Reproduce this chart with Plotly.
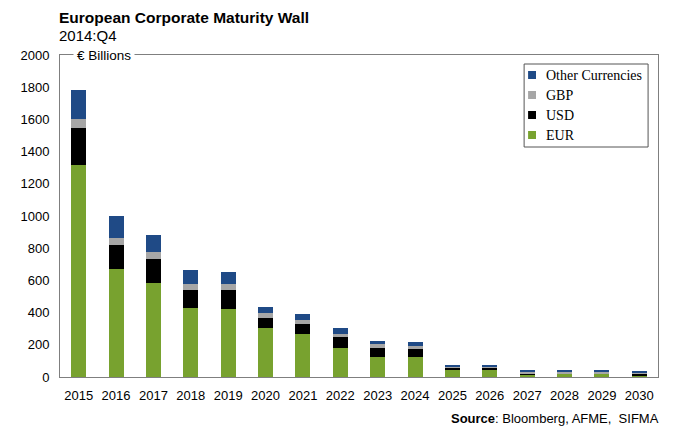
import plotly.graph_objects as go

# data (EUR bn)
years = [str(y) for y in range(2015, 2031)]
eur = [1315, 671, 584, 429, 422, 302, 269, 182, 122, 122, 47, 47, 14, 19, 23, 8]
usd = [232, 151, 151, 111, 118, 64, 58, 65, 60, 54, 9, 9, 8, 2, 1, 14]
gbp = [53, 41, 41, 38, 38, 32, 29, 22, 21, 18, 12, 12, 12, 12, 12, 8]
other = [183, 137, 104, 87, 74, 39, 33, 33, 21, 21, 8, 8, 10, 10, 10, 8]

series = [
    ("EUR", eur, "#78A22F"),
    ("USD", usd, "#000000"),
    ("GBP", gbp, "#A6A6A6"),
    ("Other Currencies", other, "#1F4A86"),
]

# page has an 8px body margin, so the figure is drawn 8px smaller
W, H = 667, 419
L, T, R, B = 47, 47, 650, 369


def px(x):
    return (x - L) / (R - L)


def py(y):
    return (B - y) / (B - T)


fig = go.Figure()
for name, vals, col in series:
    fig.add_trace(go.Bar(x=years, y=vals, name=name, width=0.4, showlegend=False,
                         marker=dict(color=col, line=dict(width=0))))

# hand drawn legend box (reference has tight spacing)
shapes = [dict(type="rect", xref="paper", yref="paper",
               x0=px(515), x1=px(640), y0=py(139), y1=py(56),
               line=dict(color="#555555", width=1), fillcolor="white", layer="above")]
annos = []
for i, (name, vals, col) in enumerate(reversed(series)):
    yc = 67 + 20 * i
    shapes.append(dict(type="rect", xref="paper", yref="paper",
                       x0=px(519), x1=px(527), y0=py(yc + 4), y1=py(yc - 4),
                       line=dict(width=0), fillcolor=col, layer="above"))
    annos.append(dict(text=name, xref="paper", yref="paper", x=px(535), y=py(yc),
                      xanchor="left", yanchor="middle", showarrow=False,
                      font=dict(family="Liberation Serif, Times New Roman", size=14)))

annos += [
    dict(text="<b>European Corporate Maturity Wall</b>", xref="paper", yref="paper",
         x=0, y=1.0, yshift=38, xanchor="left", yanchor="middle", xshift=-3,
         showarrow=False, font=dict(size=15.5)),
    dict(text="2014:Q4", xref="paper", yref="paper",
         x=0, y=1.0, yshift=20, xanchor="left", yanchor="middle", xshift=-3,
         showarrow=False, font=dict(size=15)),
    dict(text="€ Billions", xref="paper", yref="paper",
         x=px(60), y=1.0, xanchor="left", yanchor="middle", borderpad=3,
         showarrow=False, bgcolor="white", font=dict(size=13.5)),
    dict(text="<b>Source</b>: Bloomberg, AFME,  SIFMA", xref="paper", yref="paper",
         x=px(653), y=0, yshift=-41, xanchor="right", yanchor="middle",
         showarrow=False, font=dict(size=13)),
]

fig.update_layout(
    width=W, height=H,
    barmode="stack",
    plot_bgcolor="white", paper_bgcolor="white",
    margin=dict(l=L, r=W - R, t=T, b=H - B),
    font=dict(family="Liberation Sans, Arial", size=13, color="black"),
    xaxis=dict(showline=True, linecolor="#7f7f7f", mirror=True,
               ticks="", ticklabelstandoff=6),
    yaxis=dict(range=[0, 2000], dtick=200, showgrid=False,
               showline=True, linecolor="#7f7f7f", mirror=True,
               ticks="", ticklabelstandoff=7),
    shapes=shapes,
    annotations=annos,
)

fig.write_html("out.html")
